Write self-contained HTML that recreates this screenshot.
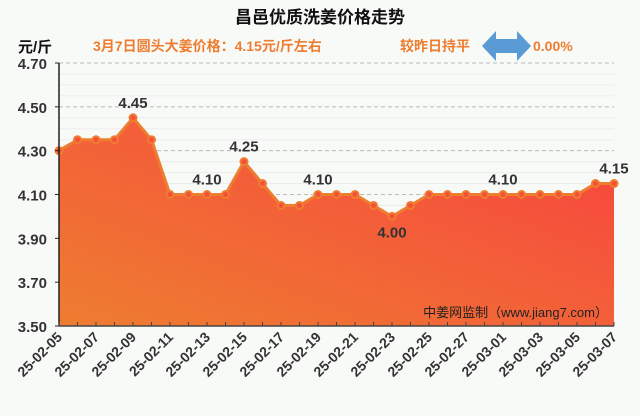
<!DOCTYPE html>
<html><head><meta charset="utf-8"><style>
body{margin:0;background:#f8faf8;font-family:"Liberation Sans","Noto Sans CJK SC",sans-serif;}
svg text{font-family:"Liberation Sans","Noto Sans CJK SC",sans-serif;}
</style></head><body>
<svg id="c" width="640" height="411" viewBox="0 0 640 411">
<defs>
<linearGradient id="g" x1="0" y1="1" x2="1" y2="0">
<stop offset="0" stop-color="#ee7d30"/><stop offset="0.6" stop-color="#f45a3a"/><stop offset="1" stop-color="#f8403e"/>
</linearGradient>
</defs>
<rect width="640" height="411" fill="#f8faf8"/>
<text x="320" y="23" text-anchor="middle" font-size="17" font-weight="bold" fill="#111">昌邑优质洗姜价格走势</text>
<text x="18" y="52" font-size="15" font-weight="bold" fill="#111">元/斤</text>
<text x="93" y="51" font-size="14" font-weight="bold" fill="#ee7d30">3月7日圆头大姜价格：4.15元/斤左右</text>
<text x="400" y="51" font-size="14" font-weight="bold" fill="#ee7d30">较昨日持平</text>
<polygon points="482,46 496,31 496,39 517,39 517,31 531,46 517,61 517,53 496,53 496,61" fill="#5b9bd5"/>
<text x="533" y="51" font-size="14" font-weight="bold" fill="#ee7d30">0.00%</text>
<g id="grid"></g><g id="plot"></g><g id="axes"></g>
<text x="608" y="317" text-anchor="end" font-size="13" fill="#222">中姜网监制（www.jiang7.com）</text>
</svg>
<script>
const dates=["25-02-05","25-02-06","25-02-07","25-02-08","25-02-09","25-02-10","25-02-11","25-02-12","25-02-13","25-02-14","25-02-15","25-02-16","25-02-17","25-02-18","25-02-19","25-02-20","25-02-21","25-02-22","25-02-23","25-02-24","25-02-25","25-02-26","25-02-27","25-02-28","25-03-01","25-03-02","25-03-03","25-03-04","25-03-05","25-03-06","25-03-07"];
const prices=[4.30,4.35,4.35,4.35,4.45,4.35,4.10,4.10,4.10,4.10,4.25,4.15,4.05,4.05,4.10,4.10,4.10,4.05,4.00,4.05,4.10,4.10,4.10,4.10,4.10,4.10,4.10,4.10,4.10,4.15,4.15];
const yTicks=[3.50,3.70,3.90,4.10,4.30,4.50,4.70];
const labelIdx=[4,8,10,14,18,24,30];
const NS="http://www.w3.org/2000/svg";
const X0=59,X1=614,Y0=326,Y1=63,YMIN=3.5,YMAX=4.7;
const x=i=>X0+(X1-X0)*i/(dates.length-1);
const y=v=>Y0-(Y0-Y1)*(v-YMIN)/(YMAX-YMIN);
function mk(tag,attrs,parent){const e=document.createElementNS(NS,tag);for(const k in attrs)e.setAttribute(k,attrs[k]);parent.appendChild(e);return e;}
const grid=document.getElementById('grid'),plot=document.getElementById('plot'),axes=document.getElementById('axes');
for(let v=YMIN;v<=YMAX+1e-9;v+=0.05){
 const major=yTicks.some(t=>Math.abs(t-v)<1e-6)&&v>YMIN+1e-6;
 const l=mk('line',{x1:X0,x2:X1,y1:y(v),y2:y(v),stroke:major?'#bbb':'#ececec','stroke-dasharray':major?'4,3':'none'},grid);
 
 
}
let d=`M${x(0)},${Y0}`;prices.forEach((p,i)=>d+=` L${x(i)},${y(p)}`);d+=` L${x(prices.length-1)},${Y0} Z`;
const area=mk('path',{d,fill:'url(#g)'},plot);


const line=mk('polyline',{points:prices.map((p,i)=>x(i)+','+y(p)).join(' '),fill:'none',stroke:'#ee7d30','stroke-width':3},plot);


prices.forEach((p,i)=>{
 const c=mk('circle',{cx:x(i),cy:y(p),r:3.5,fill:'#f4503a',stroke:'#ee7d30','stroke-width':2},plot);
 
 
});
labelIdx.forEach(i=>{
 const below=i>0&&i<prices.length-1&&prices[i]<prices[i-1]&&prices[i]<prices[i+1];
 const t=mk('text',{x:x(i),y:below?y(prices[i])+21:y(prices[i])-10,'text-anchor':'middle','font-size':15,'font-weight':'bold',fill:'#333'},plot);
 t.textContent=prices[i].toFixed(2);
 
 
});
const ya=mk('line',{x1:X0,x2:X0,y1:Y1,y2:Y0,stroke:'#222','stroke-width':1.5},axes);


const xa=mk('line',{x1:X0,x2:X1,y1:Y0,y2:Y0,stroke:'#444','stroke-width':1.5},axes);


yTicks.forEach(v=>{
 mk('line',{x1:X0-4,x2:X0,y1:y(v),y2:y(v),stroke:'#222'},axes);
 const t=mk('text',{x:X0-12,y:y(v)+6,'text-anchor':'end','font-size':15,'font-weight':'bold',fill:'#333'},axes);
 t.textContent=v.toFixed(2);
 
 
});
dates.forEach((dt,i)=>{
 mk('line',{x1:x(i),x2:x(i),y1:Y0-4,y2:Y0,stroke:'#444'},axes);
 if(i%2===0){
  const t=mk('text',{x:x(i)+4,y:Y0+12,'text-anchor':'end','font-size':14,'font-weight':'bold',fill:'#333',transform:`rotate(-45 ${x(i)+4} ${Y0+12})`},axes);
  t.textContent=dt;
  
  
 }
});
</script>
</body></html>
